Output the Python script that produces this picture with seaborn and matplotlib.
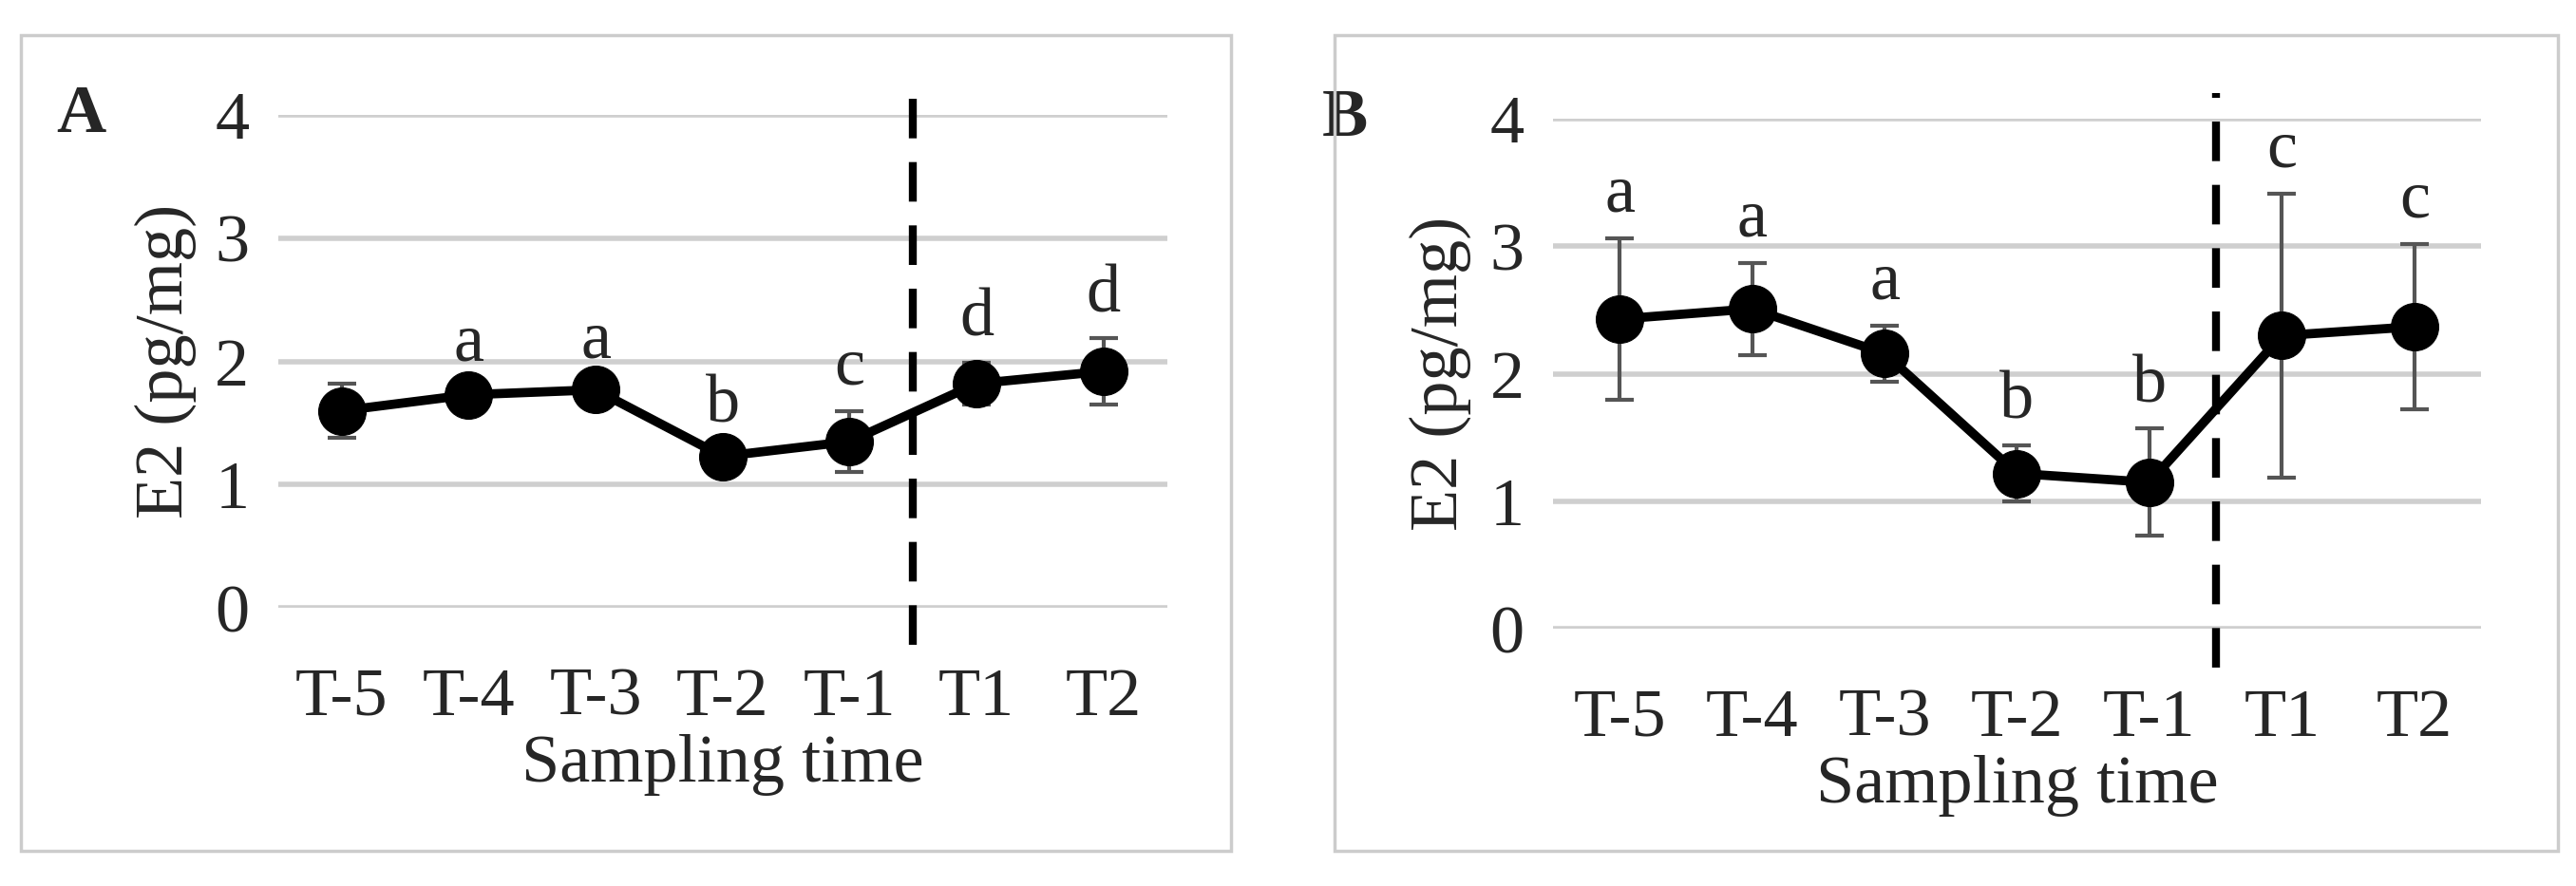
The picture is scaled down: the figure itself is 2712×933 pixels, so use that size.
import numpy as np
import pandas as pd
import seaborn as sns
import matplotlib.pyplot as plt

# sampling times and E2 values
times = ["T-5", "T-4", "T-3", "T-2", "T-1", "T1", "T2"]
mean_a = [1.60, 1.73, 1.77, 1.23, 1.35, 1.82, 1.92]
err_a = [0.22, 0.06, 0.05, 0.06, 0.25, 0.17, 0.27]
letters_a = ["", "a", "a", "b", "c", "d", "d"]
mean_b = [2.43, 2.51, 2.16, 1.22, 1.15, 2.30, 2.37]
err_b = [0.63, 0.36, 0.22, 0.22, 0.42, 1.11, 0.65]
letters_b = ["a", "a", "a", "b", "b", "c", "c"]

sns.set_style("white")
plt.rcParams['font.family'] = ['Liberation Serif', 'DejaVu Serif']

fig = plt.figure(figsize=(27.12, 9.33), dpi=100)

# panel frames
for x0, w in [(0.008, 0.470), (0.518, 0.475)]:
    fig.add_artist(plt.Rectangle((x0, 0.04), w, 0.92, transform=fig.transFigure,
                                 fill=False, edgecolor="#cccccc", linewidth=2.5))

panels = [
    ("A", [0.108, 0.314, 0.345, 0.556], mean_a, err_a, letters_a),
    ("B", [0.603, 0.290, 0.360, 0.576], mean_b, err_b, letters_b),
]

fs = 52
for name, rect, means, errs, letters in panels:
    ax = fig.add_axes(rect)
    df = pd.DataFrame({"x": range(len(times)), "y": means})
    ax.errorbar(df["x"], df["y"], yerr=errs, fmt="none", ecolor="#555555",
                elinewidth=3, capsize=11, capthick=3, zorder=2)
    sns.lineplot(data=df, x="x", y="y", ax=ax, color="black", linewidth=7,
                 marker="o", markersize=36, markeredgecolor="black", zorder=3)
    for i, (m, e, t) in enumerate(zip(means, errs, letters)):
        ax.text(i, m + e + 0.1, t, ha="center", va="bottom", fontsize=fs)
    ax.plot([4.5, 4.5], [-0.3, 4.2], color="black", linewidth=6,
            linestyle=(0, (5, 3)), clip_on=False, zorder=4)
    ax.set_xlim(-0.5, 6.5)
    ax.set_ylim(0, 4)
    ax.set_yticks([0, 1, 2, 3, 4])
    ax.set_xticks(range(len(times)))
    ax.set_xticklabels(times)
    ax.yaxis.grid(True, color="#cfcfcf", linewidth=4)
    ax.set_axisbelow(True)
    for s in ax.spines.values():
        s.set_visible(False)
    ax.tick_params(axis="both", labelsize=fs, length=0, pad=22)
    ax.tick_params(axis="x", pad=45)
    ax.set_xlabel("Sampling time", fontsize=fs, labelpad=4)
    ax.set_ylabel("E2 (pg/mg)", fontsize=fs, labelpad=14)
    ax.text(-0.25, 1.0, name, transform=ax.transAxes, fontsize=fs,
            fontweight="bold", ha="left", va="center")

fig.savefig("out.png", dpi=100)
